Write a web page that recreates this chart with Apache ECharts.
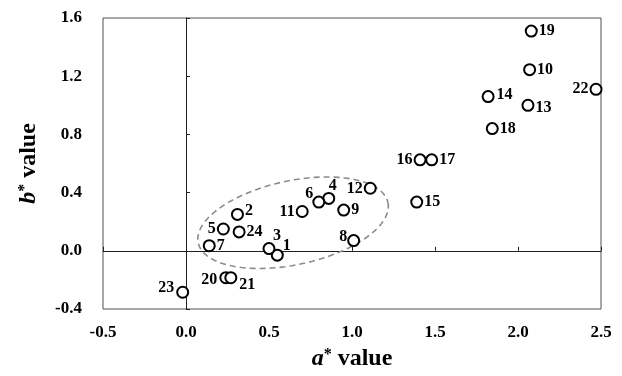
<!DOCTYPE html>
<html>
<head>
<meta charset="utf-8">
<script src="https://cdn.jsdelivr.net/npm/echarts@6/dist/echarts.min.js"></script>
<style>
  html, body { margin: 0; padding: 0; background: #fff; }
  #chart { width: 622px; height: 376px; }
</style>
</head>
<body>
<div id="chart"></div>
<script>
// sample numbers and their a*, b* values
const sampleIds = ['1','2','3','4','5','6','7','8','9','10','11','12',
                   '13','14','15','16','17','18','19','20','21','22','23','24'];
const aValues = [0.55, 0.31, 0.50, 0.86, 0.225, 0.80, 0.14, 1.01, 0.95, 2.07, 0.70, 1.11,
                 2.06, 1.82, 1.39, 1.41, 1.48, 1.845, 2.08, 0.24, 0.27, 2.47, -0.02, 0.32];
const bValues = [-0.03, 0.25, 0.015, 0.36, 0.15, 0.335, 0.035, 0.07, 0.28, 1.245, 0.27, 0.43,
                 1.0, 1.06, 0.335, 0.625, 0.625, 0.84, 1.51, -0.185, -0.185, 1.11, -0.285, 0.13];

// axis ticks
const xTicks = { min: -0.5, max: 2.5, step: 0.5 };
const yTicks = { min: -0.4, max: 1.6, step: 0.4 };

// dashed group outline (centre in data units)
const groupCenter = [0.645, 0.193];

const FONT = "'Liberation Serif', 'Times New Roman', serif";

// where each number sits next to its circle
const labelPlace = {
  '1':  { position: 'right', offset: [-3, -9] },
  '2':  { position: 'right', offset: [-1, -4] },
  '3':  { position: 'inside', offset: [8, -13] },
  '4':  { position: 'inside', offset: [4, -13] },
  '5':  { position: 'left', offset: [1, 0] },
  '6':  { position: 'left', offset: [3, -8] },
  '8':  { position: 'left', offset: [2, -4] },
  '11': { position: 'left', offset: [1, 0] },
  '12': { position: 'left', offset: [1, 1] },
  '13': { position: 'right', offset: [-1, 3] },
  '14': { position: 'right', offset: [0, -2] },
  '16': { position: 'left', offset: [1, 0] },
  '20': { position: 'left', offset: [0, 2] },
  '21': { position: 'right', offset: [0, 7] },
  '22': { position: 'left', offset: [1, 0] },
  '23': { position: 'left', offset: [0, -4] }
};

const chart = echarts.init(document.getElementById('chart'));

const points = sampleIds.map((id, i) => {
  const p = labelPlace[id] || { position: 'right', offset: [-1, 0] };
  return {
    name: id,
    value: [aValues[i], bValues[i]],
    label: { position: p.position, offset: p.offset || [0, 0] }
  };
});

const tickLabel = {
  fontFamily: FONT, fontWeight: 'bold', fontSize: 17, color: '#000'
};
const nameStyle = {
  fontFamily: FONT, fontWeight: 'bold', fontSize: 24, color: '#000',
  rich: {
    i: { fontFamily: FONT, fontWeight: 'bold', fontStyle: 'italic', fontSize: 24, color: '#000' },
    s: { fontFamily: FONT, fontWeight: 'bold', fontSize: 16, color: '#000', verticalAlign: 'top' }
  }
};
const zeroLine = { lineStyle: { color: '#202020', width: 1 } };

chart.setOption({
  animation: false,
  grid: {
    left: 103, top: 18, width: 498, height: 291,
    show: true, borderColor: '#505050', borderWidth: 1
  },
  xAxis: [
    {
      type: 'value', min: xTicks.min, max: xTicks.max, interval: xTicks.step,
      position: 'bottom',
      axisLine: { show: false, onZero: false },
      axisTick: { show: false },
      splitLine: { show: false },
      axisLabel: Object.assign({ margin: 15, formatter: v => v.toFixed(1) }, tickLabel),
      name: '{i|a}{s|*} value',
      nameLocation: 'middle', nameGap: 38,
      nameTextStyle: nameStyle
    },
    {
      type: 'value', min: xTicks.min, max: xTicks.max, interval: xTicks.step,
      axisLine: Object.assign({ show: true, onZero: true, onZeroAxisIndex: 0 }, zeroLine),
      axisTick: { show: true, inside: false, length: 4, lineStyle: { color: '#202020' } },
      axisLabel: { show: false },
      splitLine: { show: false }
    }
  ],
  yAxis: [
    {
      type: 'value', min: yTicks.min, max: yTicks.max, interval: yTicks.step,
      position: 'left',
      axisLine: { show: false, onZero: false },
      axisTick: { show: false },
      splitLine: { show: false },
      axisLabel: Object.assign({ margin: 21, formatter: v => v.toFixed(1) }, tickLabel),
      name: '{i|b}{s|*} value',
      nameLocation: 'middle', nameGap: 62,
      nameTextStyle: nameStyle
    },
    {
      type: 'value', min: yTicks.min, max: yTicks.max, interval: yTicks.step,
      axisLine: Object.assign({ show: true, onZero: true, onZeroAxisIndex: 0 }, zeroLine),
      axisTick: { show: true, inside: false, length: 4, lineStyle: { color: '#202020' } },
      axisLabel: { show: false },
      splitLine: { show: false }
    }
  ],
  series: [
    {
      type: 'custom',
      xAxisIndex: 0, yAxisIndex: 0,
      silent: true, z: 1,
      data: [groupCenter],
      renderItem: function (params, api) {
        const c = api.coord([api.value(0), api.value(1)]);
        const a = 97, b = 42, rot = 12 * Math.PI / 180;
        const pts = [];
        for (let k = 0; k <= 90; k++) {
          const t = k / 90 * Math.PI * 2;
          const ex = a * Math.cos(t), ey = b * Math.sin(t);
          pts.push([
            c[0] + ex * Math.cos(rot) + ey * Math.sin(rot),
            c[1] - ex * Math.sin(rot) + ey * Math.cos(rot)
          ]);
        }
        return {
          type: 'polyline',
          shape: { points: pts },
          style: { fill: null, stroke: '#8c8c8c', lineWidth: 1.6, lineDash: [6, 4] }
        };
      }
    },
    {
      type: 'scatter',
      xAxisIndex: 0, yAxisIndex: 0, z: 3,
      symbol: 'circle', symbolSize: 11,
      itemStyle: { color: '#fff', borderColor: '#000', borderWidth: 2, opacity: 1 },
      label: {
        show: true, distance: 2,
        formatter: '{b}',
        fontFamily: FONT, fontWeight: 'bold', fontSize: 16, color: '#000'
      },
      data: points
    }
  ]
});
</script>
</body>
</html>
